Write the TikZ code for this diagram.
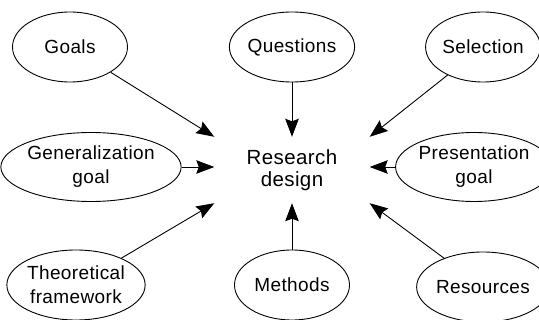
\documentclass[tikz,border=0pt]{standalone}
\usepackage{fontspec}
\setmainfont{Liberation Sans}[LetterSpace=2]
\usetikzlibrary{shapes.geometric,arrows.meta}
\begin{document}
\begin{tikzpicture}[x=1pt,y=-1pt,
  box/.style={ellipse,draw,line width=0.9pt,inner sep=0pt,align=center,
    font=\fontsize{19}{24}\selectfont},
  arr/.style={-{Stealth[length=18pt,width=13.5pt,inset=2.5pt]},line width=0.9pt}]
\useasboundingbox (0,0) rectangle (539,320);
\node[box,minimum width=115pt,minimum height=70pt] (goals) at (70,47) {Goals};
\node[box,minimum width=116pt,minimum height=70pt] (quest) at (292,47) {Questions};
\node[box,minimum width=110pt,minimum height=70pt] (sel) at (483,47) {Selection};
\node[box,minimum width=162pt,minimum height=69pt] (gen) at (91,167) {Generalization\\goal};
\node[box,minimum width=128pt,minimum height=69pt] (pres) at (474,167) {Presentation\\goal};
\node[box,minimum width=127pt,minimum height=70pt] (theo) at (76,285) {Theoretical\\framework};
\node[box,minimum width=115pt,minimum height=70pt] (meth) at (292,285) {Methods};
\node[box,minimum width=110pt,minimum height=70pt] (res) at (483,287) {Resources};
\node[minimum width=155pt,minimum height=66pt,inner sep=0pt,align=center,
  font=\fontsize{20.5}{22}\selectfont] (rd) at (292,170) {Research\\design};
\draw[arr] (goals) -- (rd.north west);
\draw[arr] (quest) -- (rd.north);
\draw[arr] (sel) -- (rd.north east);
\draw[arr] (gen) -- (gen -| rd.west);
\draw[arr] (pres) -- (pres -| rd.east);
\draw[arr] (theo) -- (rd.south west);
\draw[arr] (meth) -- (rd.south);
\draw[arr] (res) -- (rd.south east);
\end{tikzpicture}
\end{document}
